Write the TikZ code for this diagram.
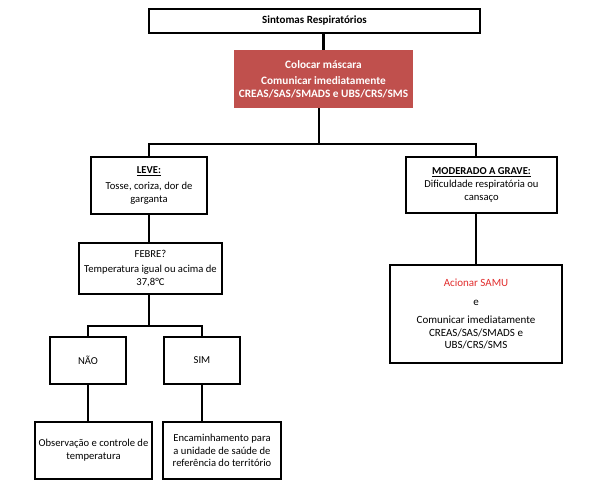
\documentclass[tikz,border=0pt]{standalone}
\usepackage{fontspec}
\setmainfont{Carlito}
\usetikzlibrary{positioning,calc}

\begin{document}
\begin{tikzpicture}[x=1pt, y=-1pt,
        fluxbox/.style={draw=black, line width=2.5pt, fill=white, inner sep=0pt, align=center, font=\fontsize{10.6}{12.8}\selectfont},
        fluxline/.style={line width=2.5pt, black}]
        \definecolor{alertred}{RGB}{192,80,77}
        \definecolor{samured}{RGB}{226,45,45}

        % Fix page size (pixel grid of reference)
        \useasboundingbox (0,0) rectangle (604,503);

        % Split points of the tree
        \coordinate (split-main) at (319,144);
        \coordinate (split-febre) at (149,326);

        % Define node positions first
        \coordinate (sint-pos) at (314.5,21);
        \coordinate (masc-pos) at (323.5,79);
        \coordinate (leve-pos) at (149,185.5);
        \coordinate (febre-pos) at (150.5,268.5);
        \coordinate (nao-pos) at (88,360.5);
        \coordinate (sim-pos) at (202,360.5);
        \coordinate (obs-pos) at (93.5,450.5);
        \coordinate (enc-pos) at (222,450.5);
        \coordinate (mod-pos) at (481.5,185);
        \coordinate (samu-pos) at (476,314);

        % Top part
        \node[fluxbox, minimum width=331pt, minimum height=24pt, font=\fontsize{11}{13}\selectfont\bfseries] (sint) at (sint-pos) {Sintomas Respiratórios};
        \node[fill=alertred, text=white, inner sep=0pt, minimum width=179pt, minimum height=58pt, align=center, font=\fontsize{11.3}{12.5}\selectfont\bfseries] (masc) at (masc-pos) {Colocar máscara\\[4pt]Comunicar imediatamente\\CREAS/SAS/SMADS e UBS/CRS/SMS};

        % Left branch
        \node[fluxbox, minimum width=116pt, minimum height=57pt] (leve) at (leve-pos) {\textbf{\underline{LEVE:}}\\[3pt]Tosse, coriza, dor de\\garganta};
        \node[fluxbox, minimum width=143pt, minimum height=51pt] (febre) at (febre-pos) {FEBRE?\\[3pt]Temperatura igual ou acima de\\37,8°C};
        \node[fluxbox, minimum width=76pt, minimum height=47pt] (nao) at (nao-pos) {NÃO};
        \node[fluxbox, minimum width=76pt, minimum height=47pt] (sim) at (sim-pos) {SIM};
        \node[fluxbox, minimum width=117pt, minimum height=57pt] (obs) at (obs-pos) {Observação e controle de\\temperatura};
        \node[fluxbox, minimum width=118pt, minimum height=57pt] (enc) at (enc-pos) {Encaminhamento para\\a unidade de saúde de\\referência do território};

        % Right branch
        \node[fluxbox, minimum width=151pt, minimum height=56pt] (mod) at (mod-pos) {\textbf{\underline{MODERADO A GRAVE:}}\\Dificuldade respiratória ou\\cansaço};
        \node[fluxbox, minimum width=172pt, minimum height=98pt, font=\fontsize{11}{12.5}\selectfont] (samu) at (samu-pos) {\textcolor{samured}{Acionar SAMU}\\[6pt]e\\[6pt]Comunicar imediatamente\\CREAS/SAS/SMADS e\\UBS/CRS/SMS};

        % Connectors
        \draw[fluxline] (sint.south -| masc) -- (masc.north);
        \draw[fluxline] (masc.south -| split-main) -- (split-main);
        \draw[fluxline] (leve.north) |- (split-main) -| (mod.north -| samu.north);
        \draw[fluxline] (leve.south) -- (leve.south |- febre.north);
        \draw[fluxline] (febre.south -| split-febre) -- (split-febre);
        \draw[fluxline] (nao.north) |- (split-febre) -| (sim.north);
        \draw[fluxline] (nao.south) -- (nao.south |- obs.north);
        \draw[fluxline] (sim.south) -- (sim.south |- enc.north);
        \draw[fluxline] (mod.south -| samu.north) -- (samu.north);
\end{tikzpicture}
\end{document}
